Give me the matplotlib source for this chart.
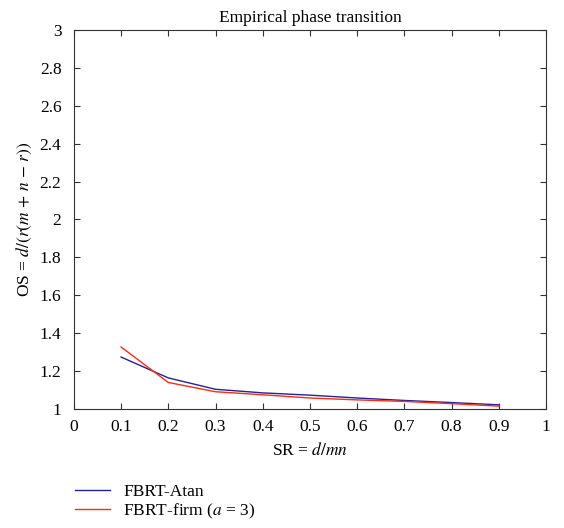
import numpy as np
import matplotlib
matplotlib.use("Agg")
import matplotlib.pyplot as plt

# data
sr = [0.1, 0.2, 0.3, 0.4, 0.5, 0.6, 0.7, 0.8, 0.9]
os_atan = [1.274, 1.164, 1.104, 1.085, 1.073, 1.058, 1.045, 1.034, 1.022]
os_firm = [1.327, 1.140, 1.091, 1.075, 1.058, 1.048, 1.040, 1.028, 1.015]

plt.rcParams['font.family'] = ['Liberation Serif', 'DejaVu Serif']
plt.rcParams['mathtext.fontset'] = 'stix'

fs = 12.5
fig = plt.figure(figsize=(5.64, 5.28), dpi=100)
ax = fig.add_axes([0.131, 0.2254, 0.837, 0.718])

ax.plot(sr, os_atan, color="#22229a", lw=1.0, label="FBRT-Atan")
ax.plot(sr, os_firm, color="#ff2a10", lw=1.0, label="FBRT-firm ($a$ = 3)")

ax.set_xlim(0, 1)
ax.set_ylim(1, 3)
ax.set_xticks(np.arange(0, 1.01, 0.1))
ax.set_xticklabels(["0", "0.1", "0.2", "0.3", "0.4", "0.5", "0.6", "0.7", "0.8", "0.9", "1"])
ax.set_yticks(np.arange(1, 3.01, 0.2))
ax.set_yticklabels(["1", "1.2", "1.4", "1.6", "1.8", "2", "2.2", "2.4", "2.6", "2.8", "3"])
ax.tick_params(direction="in", top=True, right=True, labelsize=fs, length=4,
               color="#333333", pad=7)
ax.tick_params(axis="y", pad=9)
for s in ax.spines.values():
    s.set_color("#333333")

ax.set_title("Empirical phase transition", fontsize=fs, pad=6)
ax.set_xlabel(r"SR = $d/mn$", fontsize=fs, labelpad=5)
ax.set_ylabel(r"OS = $d/(r(m\,+\,n\,-\,r))$", fontsize=fs, labelpad=4)

fig.legend(loc="upper left", bbox_to_anchor=(0.12, 0.097), frameon=False,
           fontsize=fs, handlelength=2.05, handletextpad=0.75, labelspacing=0.1,
           borderaxespad=0)

fig.savefig("out.png", dpi=100)
